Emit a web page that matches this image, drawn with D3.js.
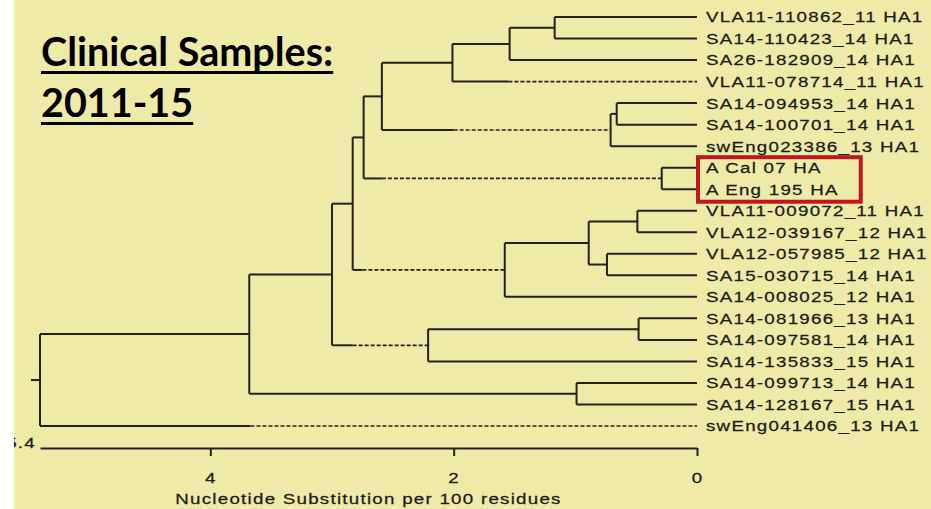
<!DOCTYPE html>
<html>
<head>
<meta charset="utf-8">
<script src="https://cdn.jsdelivr.net/npm/d3@7"></script>
<style>
  body { margin: 0; background: #fff; }
  svg { display: block; }
  .leaf, .axis text, .axis-title { font-family: "Liberation Sans", Arial, sans-serif; font-size: 15px; letter-spacing: 1px; fill: #1c1c1a; stroke: #1c1c1a; stroke-width: 0.25px; }
  .title { font-family: Lato, sans-serif; font-weight: bold; font-size: 39.5px; fill: #000; }
</style>
</head>
<body>
<svg id="chart" width="931" height="509"></svg>
<script>
// leaves, top to bottom
var leafNames = [
  "VLA11-110862_11 HA1", "SA14-110423_14 HA1", "SA26-182909_14 HA1", "VLA11-078714_11 HA1",
  "SA14-094953_14 HA1", "SA14-100701_14 HA1", "swEng023386_13 HA1",
  "A Cal 07 HA", "A Eng 195 HA",
  "VLA11-009072_11 HA1", "VLA12-039167_12 HA1", "VLA12-057985_12 HA1", "SA15-030715_14 HA1",
  "SA14-008025_12 HA1", "SA14-081966_13 HA1", "SA14-097581_14 HA1", "SA14-135833_15 HA1",
  "SA14-099713_14 HA1", "SA14-128167_15 HA1", "swEng041406_13 HA1"
];

// internal nodes: id, children, distance from the tips (substitutions per 100 residues)
var cladeIds = ["root", "R", "P", "M", "H", "F", "C", "B", "A", "E", "D", "G", "L", "K", "I", "J", "O", "N", "Q"];
var cladeChildren = [
  ["R", "swEng041406_13 HA1"],
  ["P", "Q"],
  ["M", "O"],
  ["H", "L"],
  ["F", "G"],
  ["C", "E"],
  ["B", "VLA11-078714_11 HA1"],
  ["A", "SA26-182909_14 HA1"],
  ["VLA11-110862_11 HA1", "SA14-110423_14 HA1"],
  ["D", "swEng023386_13 HA1"],
  ["SA14-094953_14 HA1", "SA14-100701_14 HA1"],
  ["A Cal 07 HA", "A Eng 195 HA"],
  ["K", "SA14-008025_12 HA1"],
  ["I", "J"],
  ["VLA11-009072_11 HA1", "VLA12-039167_12 HA1"],
  ["VLA12-057985_12 HA1", "SA15-030715_14 HA1"],
  ["N", "SA14-135833_15 HA1"],
  ["SA14-081966_13 HA1", "SA14-097581_14 HA1"],
  ["SA14-099713_14 HA1", "SA14-128167_15 HA1"]
];
var cladeDist = [5.4, 3.68, 3.00, 2.83, 2.74, 2.59, 2.01, 1.54, 1.17, 0.71, 0.66, 0.29, 1.58, 0.89, 0.49, 0.74, 2.21, 0.48, 0.99];

// branches drawn dashed from a given distance onwards
var dashedBranches = ["VLA11-078714_11 HA1", "E", "G", "L", "O", "swEng041406_13 HA1"];
var dashStart = [1.55, 2.00, 2.59, 2.75, 2.83, 3.67];

var tickValues = [4, 2, 0];
var axisMax = 5.4;
var axisTitle = "Nucleotide Substitution per 100 residues";
var titleLines = ["Clinical Samples:", "2011-15"];
var highlighted = ["A Cal 07 HA", "A Eng 195 HA"];

var stretch = "scale(1.25,1)"; // the old bitmap font is drawn wide

var svg = d3.select("#chart");

svg.append("rect")
  .attr("x", 14).attr("y", 0)
  .attr("width", 917).attr("height", 509)
  .attr("fill", "#eeeba9");

var x = d3.scaleLinear().domain([axisMax, 0]).range([40, 697]);
var y = d3.scalePoint().domain(leafNames).range([17, 426]);

function build(id) {
  var i = cladeIds.indexOf(id);
  if (i < 0) return {name: id, dist: 0};
  return {name: id, dist: cladeDist[i], children: cladeChildren[i].map(build)};
}
var root = d3.hierarchy(build("root"));
root.eachAfter(function(n) {
  n.py = n.children
    ? (n.children[0].py + n.children[n.children.length - 1].py) / 2
    : y(n.data.name);
});

var tree = svg.append("g")
  .attr("fill", "none")
  .attr("stroke", "#22221e")
  .attr("stroke-width", 2);

//
// vertical connectors
tree.selectAll("line.v")
  .data(root.descendants().filter(function(n) { return n.children; }))
  .enter().append("line")
  .attr("class", "v")
  .attr("x1", function(n) { return x(n.data.dist); })
  .attr("x2", function(n) { return x(n.data.dist); })
  .attr("y1", function(n) { return n.children[0].py; })
  .attr("y2", function(n) { return n.children[n.children.length - 1].py; });

//
// horizontal branches, solid part then optional dashed part
var branches = root.descendants().filter(function(n) { return n.parent; });
branches.forEach(function(n) {
  var k = dashedBranches.indexOf(n.data.name),
      x0 = x(n.parent.data.dist),
      x1 = x(n.data.dist),
      xm = k < 0 ? x1 : x(dashStart[k]);
  tree.append("line")
    .attr("x1", x0).attr("x2", xm)
    .attr("y1", n.py).attr("y2", n.py);
  if (k >= 0) {
    tree.append("line")
      .attr("x1", xm).attr("x2", x1)
      .attr("y1", n.py).attr("y2", n.py)
      .attr("stroke-width", 1.7)
      .attr("stroke-dasharray", "4,2");
  }
});

// root stub
tree.append("line")
  .attr("x1", x(root.data.dist) - 9).attr("x2", x(root.data.dist))
  .attr("y1", root.py).attr("y2", root.py);

//
// leaf labels
var labels = svg.append("g").selectAll("text")
  .data(root.leaves())
  .enter().append("text")
  .attr("class", "leaf")
  .attr("transform", function(n) { return "translate(" + (x(0) + 9) + "," + n.py + ")" + stretch; })
  .attr("dy", "0.36em")
  .text(function(n) { return n.data.name; });

//
// highlight box
var hl = labels.filter(function(n) { return highlighted.indexOf(n.data.name) >= 0; });
var hlRight = d3.max(hl.nodes(), function(el) { return el.getBoundingClientRect().right; });
svg.append("rect")
  .attr("x", x(0) + 1)
  .attr("y", y(highlighted[0]) - 10.5)
  .attr("width", hlRight + 22 - x(0) - 1)
  .attr("height", y(highlighted[1]) - y(highlighted[0]) + 23)
  .attr("fill", "none")
  .attr("stroke", "#c0161e")
  .attr("stroke-width", 4);

//
// scale axis
var axisY = 448;
var axis = svg.append("g")
  .attr("class", "axis")
  .attr("transform", "translate(0," + axisY + ")")
  .call(d3.axisBottom(x).tickValues(tickValues).tickSize(8).tickSizeOuter(0).tickPadding(16).tickFormat(d3.format("d")));
axis.select(".domain").attr("stroke", "#22221e").attr("stroke-width", 2);
axis.selectAll(".tick line").attr("stroke", "#22221e").attr("stroke-width", 2);
axis.selectAll(".tick text")
  .attr("fill", null)
  .attr("transform", function() { return "translate(0," + d3.select(this).attr("y") + ")" + stretch; })
  .attr("y", 0);

svg.append("text")
  .attr("class", "axis-title")
  .attr("transform", "translate(36," + axisY + ")" + stretch)
  .attr("text-anchor", "end")
  .text(d3.format(".1f")(axisMax));

svg.append("text")
  .attr("class", "axis-title")
  .attr("transform", "translate(" + ((x.range()[0] + x.range()[1]) / 2) + ",504)" + stretch)
  .attr("text-anchor", "middle")
  .text(axisTitle);

//
// title, underlined
var title = svg.append("g");
titleLines.forEach(function(t, i) {
  var base = 66 + i * 51;
  var txt = title.append("text")
    .attr("class", "title")
    .attr("x", 41)
    .attr("y", base)
    .text(t);
  title.append("rect")
    .attr("x", 41)
    .attr("y", base + 5)
    .attr("width", txt.node().getComputedTextLength())
    .attr("height", 3)
    .attr("fill", "#000");
});

// white page margin on the left
svg.append("rect")
  .attr("x", 0).attr("y", 0)
  .attr("width", 14).attr("height", 509)
  .attr("fill", "#fff");
</script>
</body>
</html>
